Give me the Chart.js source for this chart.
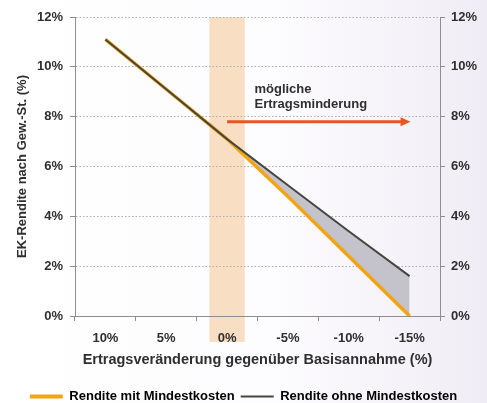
<!DOCTYPE html>
<html>
<head>
<meta charset="utf-8">
<script src="https://cdn.jsdelivr.net/npm/chart.js@4.4.0/dist/chart.umd.min.js"></script>
<style>
  html, body { margin: 0; padding: 0; background: #fff; }
  #wrap { width: 487px; height: 403px; }
</style>
</head>
<body>
<div id="wrap"><canvas id="renditeChart"></canvas></div>
<script>
// data
var categories = ['10%', '5%', '0%', '-5%', '-10%', '-15%'];
var renditeMit = [11.1, 9.1, 7.1, 4.8, 2.4, 0.0];
var renditeOhne = [11.1, 9.1, 7.1, 5.25, 3.4, 1.6];
var yTicks = [0, 2, 4, 6, 8, 10, 12];

// annotation: highlighted base case and arrow
var bandCategory = '0%';
var arrowStart = 2, arrowEnd = 5, arrowLevel = 7.8;
var noteLines = ['mögliche', 'Ertragsminderung'];

var FONT = "'Liberation Sans', Arial, sans-serif";
var TXT = '#2f2f2f';
var AXIS = '#8e8e8e';

var extras = {
  id: 'extras',
  beforeDraw: function (chart) {
    var ctx = chart.ctx, x = chart.scales.x, y = chart.scales.y;
    ctx.save();
    var g = ctx.createLinearGradient(0, 0, chart.width, 0);
    g.addColorStop(0, '#ffffff');
    g.addColorStop(0.55, '#fdfcfe');
    g.addColorStop(1, '#f0ecf5');
    ctx.fillStyle = g;
    ctx.fillRect(0, 0, chart.width, chart.height);

    // orange band behind 0%
    var cx = x.getPixelForValue(categories.indexOf(bandCategory));
    var half = x.width / categories.length * 0.29;
    ctx.fillStyle = '#f8dec2';
    ctx.fillRect(cx - half, y.top, half * 2, y.bottom - y.top + 26);
    ctx.restore();
  },
  afterDatasetsDraw: function (chart) {
    var ctx = chart.ctx, x = chart.scales.x, y = chart.scales.y;
    var x0 = x.getPixelForValue(arrowStart);
    var x1 = x.getPixelForValue(arrowEnd);
    var ay = y.getPixelForValue(arrowLevel);
    ctx.save();
    ctx.strokeStyle = '#ea5622';
    ctx.fillStyle = '#ea5622';
    ctx.lineWidth = 3;
    ctx.beginPath();
    ctx.moveTo(x0, ay);
    ctx.lineTo(x1 - 7, ay);
    ctx.stroke();
    ctx.beginPath();
    ctx.moveTo(x1 + 1, ay);
    ctx.lineTo(x1 - 9, ay - 4.5);
    ctx.lineTo(x1 - 9, ay + 4.5);
    ctx.closePath();
    ctx.fill();

    ctx.fillStyle = TXT;
    ctx.font = 'bold 13px ' + FONT;
    ctx.textBaseline = 'middle';
    ctx.textAlign = 'left';
    var tx = x.getPixelForValue(2.45);
    ctx.fillText(noteLines[0], tx, y.getPixelForValue(9.1));
    ctx.fillText(noteLines[1], tx, y.getPixelForValue(8.5));
    ctx.restore();
  }
};

var ctx = document.getElementById('renditeChart').getContext('2d');
var chart = new Chart(ctx, {
  type: 'line',
  data: {
    labels: categories,
    datasets: [{
        label: 'Rendite mit Mindestkosten',
        data: renditeMit,
        borderColor: '#f2a514',
        borderWidth: 3.5,
        pointRadius: 0,
        fill: false,
        order: 1
      },
      {
        label: 'Rendite ohne Mindestkosten',
        data: renditeOhne,
        borderColor: '#46453f',
        borderWidth: 2,
        pointRadius: 0,
        fill: '-1',
        backgroundColor: '#c4c2cb',
        order: 0
      }
    ]
  },
  options: {
    responsive: true,
    maintainAspectRatio: false,
    animation: false,
    devicePixelRatio: 1,
    layout: { padding: { top: 17, left: 0, right: 0, bottom: -10 } },
    plugins: {
      filler: { drawTime: 'beforeDatasetsDraw' },
      tooltip: { enabled: false },
      legend: {
        position: 'bottom',
        labels: {
          usePointStyle: true,
          pointStyle: 'line',
          pointStyleWidth: 33,
          padding: 6,
          color: TXT,
          font: { family: FONT, size: 13, weight: 'bold' },
          generateLabels: function (chart) {
            return chart.data.datasets.map(function (ds, i) {
              return {
                text: ds.label,
                fillStyle: ds.borderColor,
                strokeStyle: ds.borderColor,
                lineWidth: i === 0 ? 4 : 2,
                pointStyle: 'line',
                hidden: false,
                datasetIndex: i
              };
            });
          }
        }
      }
    },
    scales: {
      x: {
        offset: true,
        grid: { display: true, drawOnChartArea: false, offset: true, tickLength: 5, color: AXIS },
        border: { display: true, color: AXIS },
        ticks: { color: TXT, padding: 10, font: { family: FONT, size: 13, weight: 'bold' } },
        title: {
          display: true,
          text: 'Ertragsveränderung gegenüber Basisannahme (%)',
          color: TXT,
          font: { family: FONT, size: 14.5, weight: 'bold' },
          padding: { top: 0, bottom: 15 }
        },
        afterFit: function (s) { s.height = 68; }
      },
      y: {
        position: 'left',
        min: 0,
        max: 12,
        afterBuildTicks: function (s) { s.ticks = yTicks.map(function (v) { return { value: v }; }); },
        ticks: {
          color: TXT, padding: 7,
          font: { family: FONT, size: 13, weight: 'bold' },
          callback: function (v) { return v + '%'; }
        },
        grid: { color: '#adadad', tickLength: 5, tickColor: AXIS },
        border: { display: true, color: AXIS, dash: [1.5, 2] },
        title: {
          display: true,
          text: 'EK-Rendite nach Gew.-St. (%)',
          color: TXT,
          font: { family: FONT, size: 13, weight: 'bold' },
          padding: { top: 15, bottom: 0 }
        },
        afterFit: function (s) { s.width = 75; }
      },
      y2: {
        position: 'right',
        min: 0,
        max: 12,
        afterBuildTicks: function (s) { s.ticks = yTicks.map(function (v) { return { value: v }; }); },
        ticks: {
          color: TXT, padding: 6,
          font: { family: FONT, size: 13, weight: 'bold' },
          callback: function (v) { return v + '%'; }
        },
        grid: { drawOnChartArea: false, tickLength: 5, color: AXIS },
        border: { display: true, color: AXIS },
        afterFit: function (s) { s.width = 47; }
      }
    }
  },
  plugins: [extras]
});
</script>
</body>
</html>
